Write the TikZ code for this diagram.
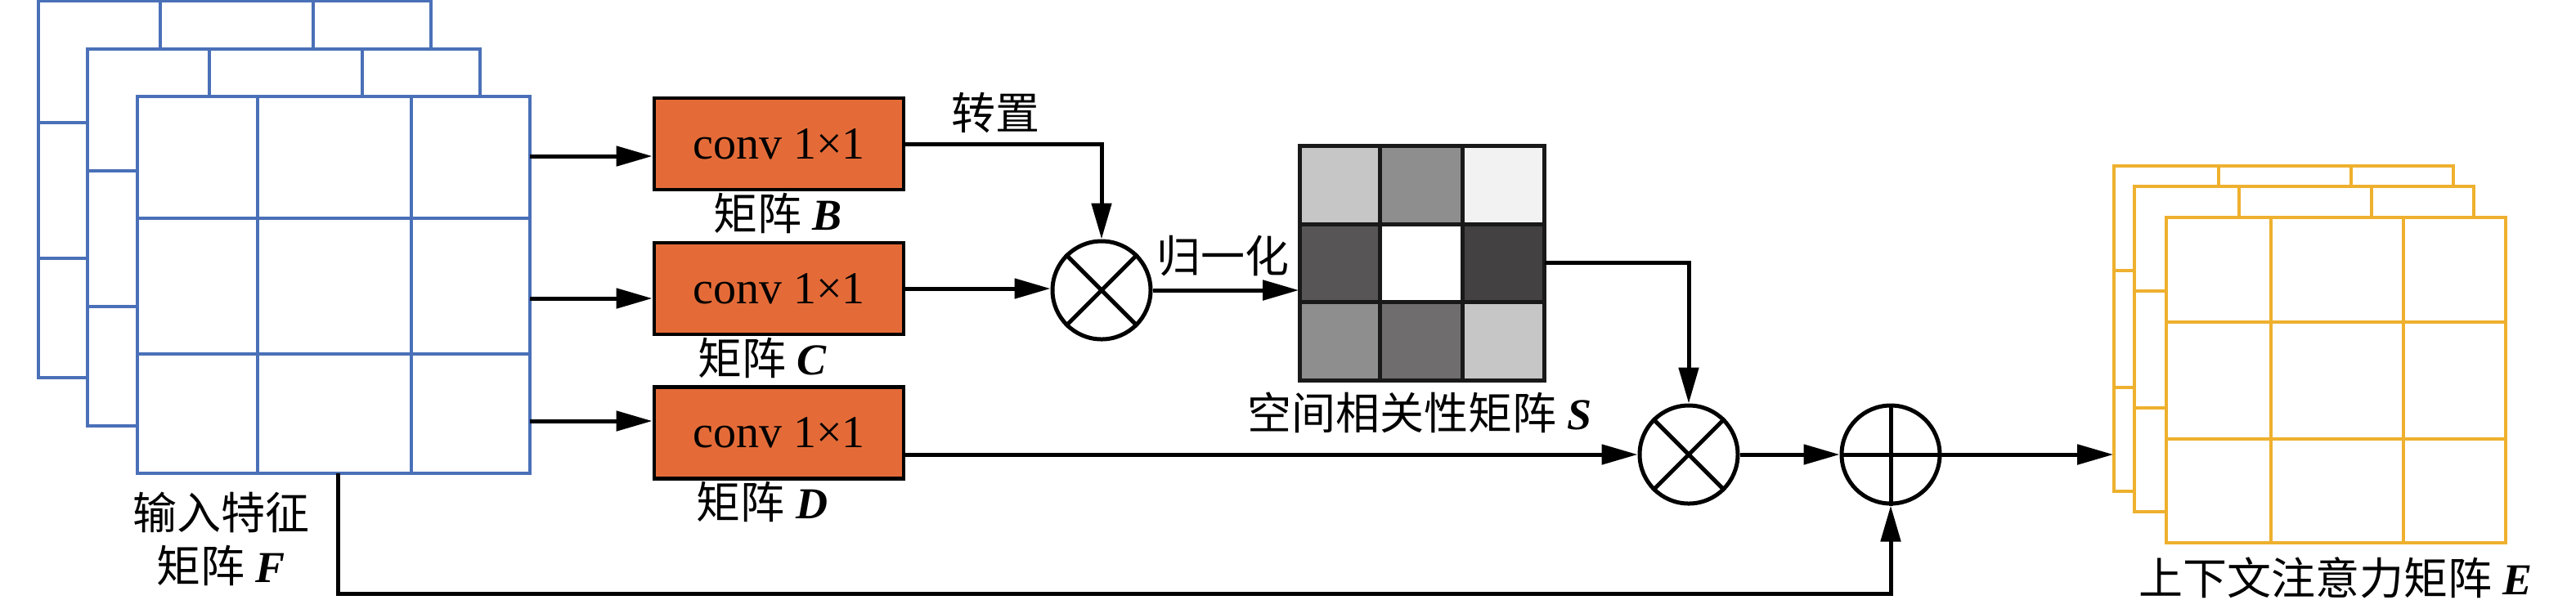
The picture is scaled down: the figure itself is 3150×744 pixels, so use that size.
\documentclass[tikz,border=0pt]{standalone}
\usepackage{fontspec}
\setmainfont{Liberation Serif}
\newfontfamily\cjk{Noto Sans CJK SC}
\usetikzlibrary{arrows.meta,fit}
\definecolor{fblue}{HTML}{4A70B8}
\definecolor{eyellow}{HTML}{EEB02E}
\definecolor{boxorange}{HTML}{E46B38}
\newcommand\mylayer[9]{%
  \draw[#9,fill=white] (#1,#2) rectangle ++(#3,#4);
  \draw[#9] (#1+#5,#2) -- ++(0,#4) (#1+#6,#2) -- ++(0,#4)
            (#1,#2+#7) -- ++(#3,0) (#1,#2+#8) -- ++(#3,0);}
\begin{document}
\begin{tikzpicture}[x=0.25pt,y=-0.25pt,
  bl/.style={draw=fblue,line width=1.2pt},
  yl/.style={draw=eyellow,line width=1.2pt},
  convbox/.style={draw=black,fill=boxorange,line width=1.2pt,minimum width=76.25pt,minimum height=28pt,inner sep=0pt,font=\fontsize{14}{16}\selectfont},
  opnode/.style={circle,draw=black,line width=1.25pt,minimum size=30pt,inner sep=0pt},
  conn/.style={line width=1.25pt,draw=black},
  arr/.style={conn,-{Triangle[length=11pt,width=6pt]}},
  lbl/.style={inner sep=0pt,font=\fontsize{13.5}{16.25}\selectfont,align=center}]
\useasboundingbox (0,0) rectangle (3150,744);
% input feature stack F
\mylayer{47}{1}{480}{461}{149}{336}{149}{315}{bl}
\mylayer{107}{60}{480}{461}{149}{336}{149}{315}{bl}
\mylayer{168}{118}{480}{461}{147}{335}{149}{315}{bl}
\node[fit={(168,118)(648,579)},inner sep=0pt] (F) {};
% output stack E
\mylayer{2585}{203}{415}{398}{128}{290}{128}{271}{yl}
\mylayer{2610}{228}{415}{398}{128}{290}{128}{271}{yl}
\mylayer{2649}{266}{415}{398}{128}{290}{128}{271}{yl}
\node[fit={(2585,203)(3000,601)},inner sep=0pt] (E) {};
% S matrix
\fill[fill={rgb,255:red,198;green,198;blue,198}] (1589,178) rectangle (1687,274);
\fill[fill={rgb,255:red,143;green,142;blue,143}] (1687,178) rectangle (1788,274);
\fill[fill={rgb,255:red,242;green,242;blue,242}] (1788,178) rectangle (1888,274);
\fill[fill={rgb,255:red,87;green,85;blue,86}] (1589,274) rectangle (1687,369);
\fill[fill=white] (1687,274) rectangle (1788,369);
\fill[fill={rgb,255:red,68;green,65;blue,66}] (1788,274) rectangle (1888,369);
\fill[fill={rgb,255:red,143;green,142;blue,143}] (1589,369) rectangle (1687,465);
\fill[fill={rgb,255:red,111;green,109;blue,110}] (1687,369) rectangle (1788,465);
\fill[fill={rgb,255:red,198;green,198;blue,198}] (1788,369) rectangle (1888,465);
\draw[line width=1.25pt,black!90] (1589,178) rectangle (1888,465)
  (1687,178) -- (1687,465) (1788,178) -- (1788,465)
  (1589,274) -- (1888,274) (1589,369) -- (1888,369);
\node[fit={(1589,178)(1888,465)},inner sep=0pt] (S) {};
% conv boxes
\node[convbox] (B) at (952.5,176) {conv 1×1};
\node[convbox] (C) at (952.5,353) {conv 1×1};
\node[convbox] (D) at (952.5,529.5) {conv 1×1};
% operators
\node[opnode] (M1) at (1347,355) {};
\draw[conn] (M1.45) -- (M1.225) (M1.135) -- (M1.315);
\node[opnode] (M2) at (2065,556) {};
\draw[conn] (M2.45) -- (M2.225) (M2.135) -- (M2.315);
\node[opnode] (M3) at (2312,556) {};
\draw[conn] (M3.north) -- (M3.south) (M3.west) -- (M3.east);
% labels
\node[lbl] (lF) at (270,659) {{\cjk 输入特征}\\{\cjk 矩阵} \textbf{\textit{F}}};
\node[lbl] (lB) at (951,261) {{\cjk 矩阵} \textbf{\textit{B}}};
\node[lbl] (lC) at (932,438) {{\cjk 矩阵} \textbf{\textit{C}}};
\node[lbl] (lD) at (932,614) {{\cjk 矩阵} \textbf{\textit{D}}};
\node[lbl] (lT) at (1217,138) {\cjk 转置};
\node[lbl] (lN) at (1495,313) {\cjk 归一化};
\node[lbl] (lS) at (1736,505) {{\cjk 空间相关性矩阵} \textbf{\textit{S}}};
\node[lbl] (lE) at (2856,707) {{\cjk 上下文注意力矩阵} \textbf{\textit{E}}};
% connectors
\coordinate (fb) at (648,191);
\coordinate (fc) at (648,365);
\coordinate (fd) at (648,515);
\coordinate (fbot) at (413,579);
\coordinate (low) at (413,726);
\draw[arr] (fb) -- (fb -| B.west);
\draw[arr] (fc) -- (fc -| C.west);
\draw[arr] (fd) -- (fd -| D.west);
\draw[arr] (B.east) -| (M1.north);
\draw[arr] (C.east) -- (C.east -| M1.west);
\draw[arr] (M1.east) -- (M1.east -| S.west);
\draw[arr] (S.east) -| (M2.north);
\draw[arr] (M2.west -| D.east) -- (M2.west);
\draw[arr] (M2.east) -- (M3.west);
\draw[arr] (M3.east) -- (M3.east -| E.west);
\draw[arr] (fbot) -- (low) -| (M3.south);
\end{tikzpicture}
\end{document}
